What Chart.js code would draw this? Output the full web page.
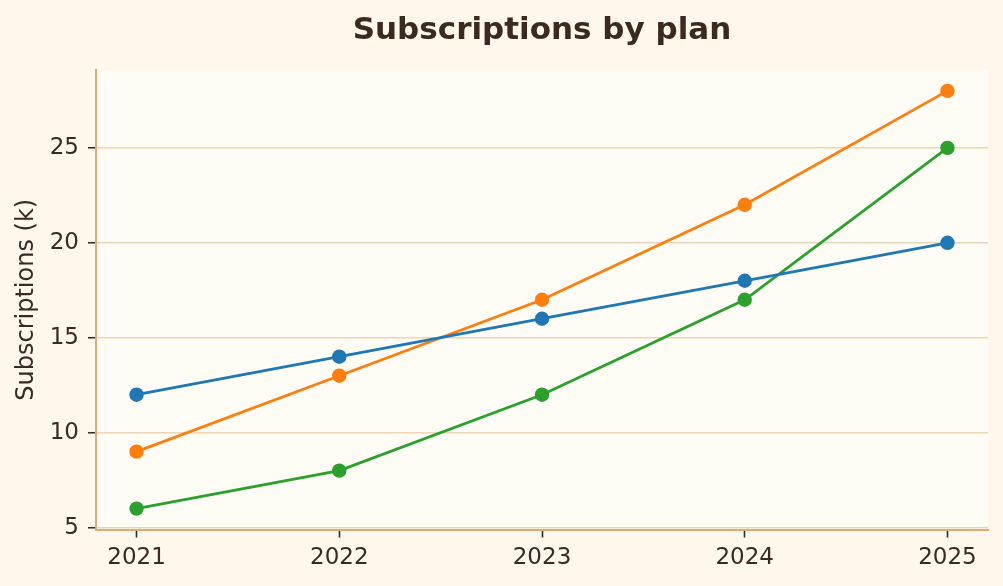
<!DOCTYPE html>
<html>
<head>
<meta charset="utf-8">
<script src="https://cdn.jsdelivr.net/npm/chart.js@4/dist/chart.umd.min.js"></script>
<style>
  html, body { margin: 0; padding: 0; background: #FFF7EC; }
  #wrap { width: 1003px; height: 586px; }
</style>
</head>
<body>
<div id="wrap"><canvas id="c" width="1003" height="586"></canvas></div>
<script>
const categories = ['2021', '2022', '2023', '2024', '2025'];
const seriesBlue = [12, 14, 16, 18, 20];
const seriesOrange = [9, 13, 17, 22, 28];
const seriesGreen = [6, 8, 12, 17, 25];
const yTicks = [5, 10, 15, 20, 25];

const textColor = '#3B2A1F';
const axisColor = '#DCAE76';
const gridColor = '#ECD5B3';

const toPoints = arr => arr.map((v, i) => ({ x: i, y: v }));

const bgPlugin = {
  id: 'bg',
  beforeDraw(chart) {
    const { ctx, chartArea: a } = chart;
    ctx.save();
    ctx.fillStyle = '#FFF7EC';
    ctx.fillRect(0, 0, chart.width, chart.height);
    ctx.fillStyle = '#FFFCF5';
    ctx.fillRect(a.left, a.top, a.right - a.left, a.bottom - a.top);
    ctx.restore();
  }
};

function ds(label, data, color) {
  return {
    label, data: toPoints(data),
    borderColor: color, backgroundColor: color,
    borderWidth: 2.8, pointRadius: 7.2, pointHoverRadius: 7.2,
    pointBorderWidth: 0, tension: 0
  };
}

new Chart(document.getElementById('c'), {
  type: 'line',
  data: {
    datasets: [
      ds('Basic', seriesBlue, '#1f77b4'),
      ds('Pro', seriesOrange, '#ff7f0e'),
      ds('Enterprise', seriesGreen, '#2ca02c')
    ]
  },
  options: {
    responsive: false,
    animation: false,
    layout: { padding: { left: 0, right: 15, top: 0, bottom: 0 } },
    plugins: {
      legend: { display: false },
      tooltip: { enabled: false },
      title: {
        display: true,
        fullSize: false,
        text: 'Subscriptions by plan',
        color: textColor,
        font: { family: 'DejaVu Sans', size: 31, weight: 'bold' },
        padding: { top: 12, bottom: 20.8 }
      }
    },
    scales: {
      x: {
        type: 'linear',
        min: -0.2, max: 4.2,
        afterBuildTicks: s => { s.ticks = categories.map((c, i) => ({ value: i })); },
        afterFit: s => { s.height = 56.5; },
        ticks: {
          callback: v => categories[v],
          color: textColor,
          font: { family: 'DejaVu Sans', size: 23 },
          padding: 7, maxRotation: 0, autoSkip: false
        },
        grid: { color: 'rgba(0,0,0,0)', tickColor: textColor, tickLength: 8, tickWidth: 1.6 },
        border: { color: axisColor, width: 2 }
      },
      y: {
        min: 4.9, max: 29.1,
        afterBuildTicks: s => { s.ticks = yTicks.map(v => ({ value: v })); },
        afterFit: s => { s.width = 96; },
        ticks: {
          color: textColor,
          font: { family: 'DejaVu Sans', size: 23 },
          padding: 9
        },
        grid: { color: gridColor, lineWidth: 1.5, tickColor: textColor, tickLength: 8, tickWidth: 1.6 },
        border: { color: axisColor, width: 2 },
        title: {
          display: true,
          text: 'Subscriptions (k)',
          color: textColor,
          font: { family: 'DejaVu Sans', size: 24 },
          padding: { top: 12, bottom: 0 }
        }
      }
    }
  },
  plugins: [bgPlugin]
});
</script>
</body>
</html>
